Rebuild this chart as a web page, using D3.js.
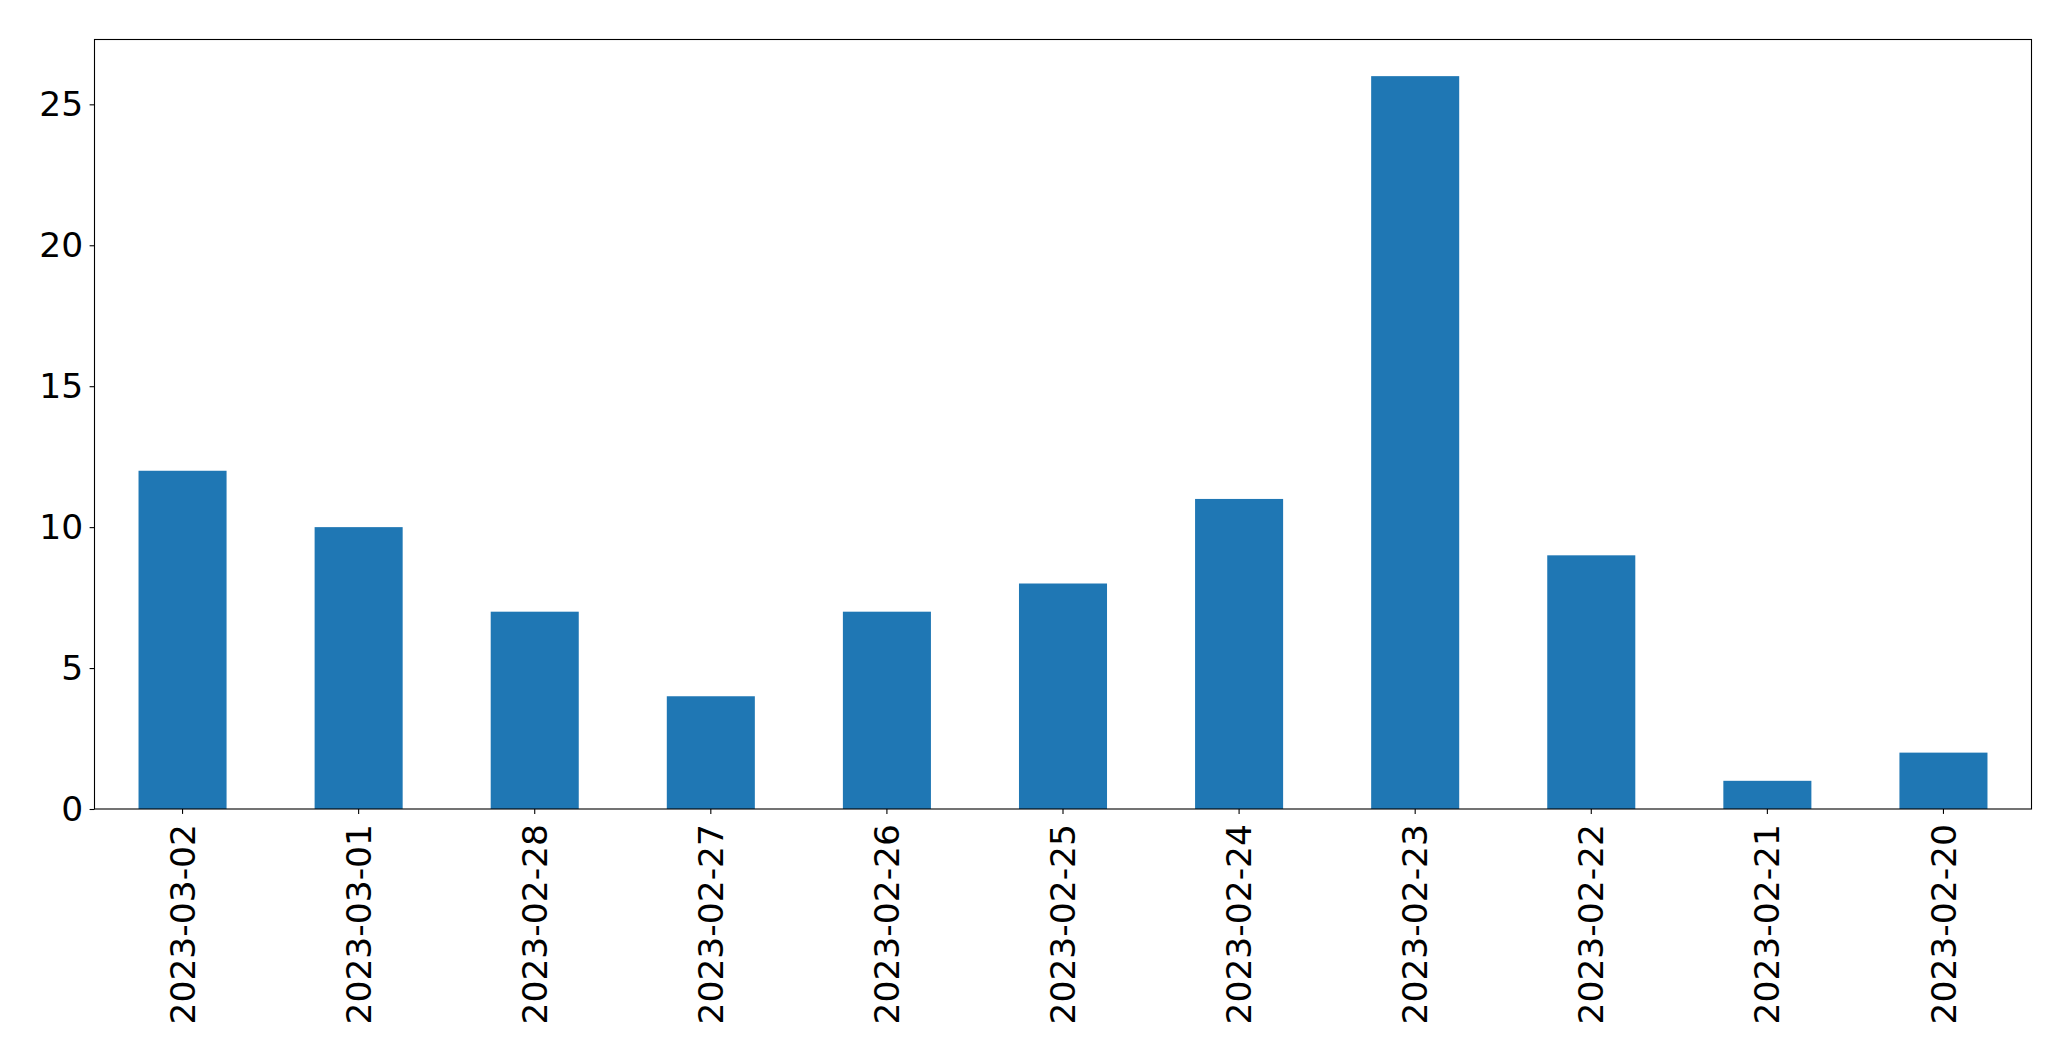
<!DOCTYPE html>
<html><head><meta charset="utf-8">
<script src="https://cdn.jsdelivr.net/npm/d3@7"></script>
<style>body{margin:0;background:#fff}</style>
</head><body>
<script>
const categories = ["2023-03-02","2023-03-01","2023-02-28","2023-02-27","2023-02-26","2023-02-25","2023-02-24","2023-02-23","2023-02-22","2023-02-21","2023-02-20"];
const values = [12,10,7,4,7,8,11,26,9,1,2];
const yTicks = [0,5,10,15,20,25];

const W = 2071, H = 1061;
const L = 94.5, T = 39.5, R = 2031.5, B = 809;
const svg = d3.select("body").append("svg").attr("width", W).attr("height", H);

const x = d3.scaleBand().domain(categories).range([L, R]).paddingInner(0.5).paddingOuter(0.25);
const y = d3.scaleLinear().domain([0, 27.3]).range([B, T]);

svg.append("g").selectAll("rect").data(values).join("rect")
  .attr("x", (d,i) => x(categories[i]))
  .attr("width", x.bandwidth())
  .attr("y", d => y(d))
  .attr("height", d => B - y(d))
  .attr("fill", "#1f77b4");

const font = "DejaVu Sans";
const fs = 34.5;

const yAxis = svg.append("g").attr("transform", `translate(${L},0)`)
  .call(d3.axisLeft(y).tickValues(yTicks).tickSize(4.9).tickPadding(6.5).tickFormat(d3.format("d")));
yAxis.select(".domain").remove();
yAxis.selectAll("text").attr("font-family", font).attr("font-size", fs).attr("fill", "#000");
yAxis.selectAll("line").attr("stroke", "#000").attr("stroke-width", 1.1);

const xAxis = svg.append("g").attr("transform", `translate(0,${B})`)
  .call(d3.axisBottom(x).tickSize(4.9).tickPadding(0));
xAxis.select(".domain").remove();
xAxis.selectAll("line").attr("stroke", "#000").attr("stroke-width", 1.1);
xAxis.selectAll("text")
  .attr("font-family", font).attr("font-size", fs).attr("fill", "#000")
  .attr("text-anchor", "end")
  .attr("transform", "translate(0,15) rotate(-90)")
  .attr("x", 0).attr("y", 0).attr("dy", "0.35em");

svg.append("rect").attr("x", L).attr("y", T).attr("width", R - L).attr("height", B - T)
  .attr("fill", "none").attr("stroke", "#000").attr("stroke-width", 1.1);
</script>
</body></html>
